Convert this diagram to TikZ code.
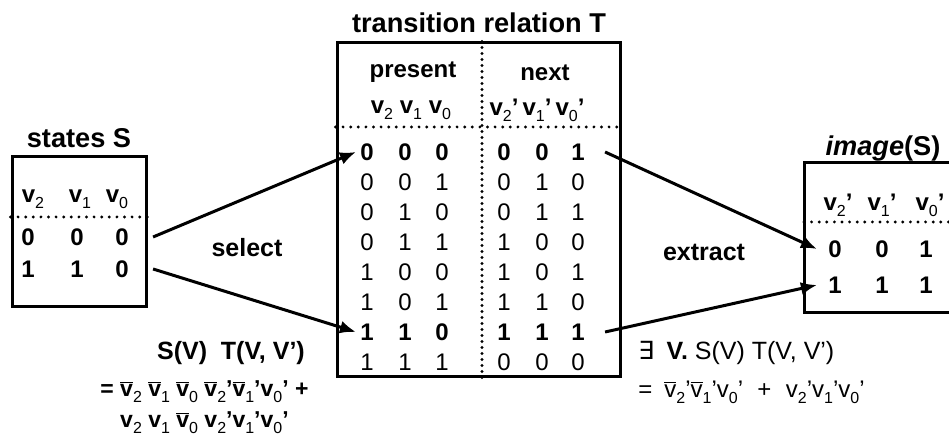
\documentclass[tikz,border=0pt]{standalone}
\usepackage{fontspec}
\setmainfont{Liberation Sans}
\newfontfamily\symfont{DejaVu Sans}
\usetikzlibrary{arrows.meta}

% variables with lowered indices, plain and negated
\newcommand{\sub}[1]{\raisebox{-0.45ex}{\fontsize{8}{8}\selectfont\mdseries #1}}
\newcommand{\vv}[1]{v\sub{#1}}
\newcommand{\nvv}[1]{$\overline{\hbox{v}}$\sub{#1}}

\begin{document}
\begin{tikzpicture}[x=0.5pt, y=-0.5pt,
    every node/.style={inner sep=0pt, font=\bfseries\fontsize{12}{14}\selectfont},
    title/.style={font=\bfseries\fontsize{13.6}{16}\selectfont},
    label/.style={font=\bfseries\fontsize{12.5}{15}\selectfont},
    frame/.style={draw, line width=1.5pt},
    dots/.style={line width=1.6pt, line cap=round, dash pattern=on 0pt off #1},
    dots/.default=3.8pt,
    link/.style={line width=1.5pt, -{Latex[length=8pt,width=6.5pt]}},
  ]
  \useasboundingbox (0,0) rectangle (949,437);

  % states S
  \node[title] (stitle) at (79,138) {states S};
  \node[frame, minimum width=67pt, minimum height=75pt] (sbox) at (79,232) {};
  \draw[dots] (sbox.west |- 0,217) -- (sbox.east |- 0,217);
  \foreach \k/\x in {2/33, 1/80, 0/117}
    \node (sh\k) at (\x,199) {\vv{\k}};
  \foreach \r/\y/\sa/\sb/\sc in {1/237/0/0/0, 2/269/1/1/0}{
    \node (s\r-2) at (28,\y) {\sa};
    \node (s\r-1) at (77,\y) {\sb};
    \node (s\r-0) at (122,\y) {\sc};
  }

  % transition relation T
  \node[title] (ttitle) at (479,23) {transition relation T};
  \node[frame, minimum width=141.5pt, minimum height=167pt] (tbox) at (478.5,210) {};
  \draw[dots=3pt] (tbox.north -| 482,0) -- (tbox.south -| 482,0);
  \draw[dots] (tbox.west |- 0,127) -- (tbox.east |- 0,127);
  \node (present) at (413,72) {present};
  \node (next) at (545,73) {next};
  \foreach \k/\x in {2/382, 1/411, 0/440}
    \node (ph\k) at (\x,110) {\vv{\k}};
  \foreach \k/\x in {2/504, 1/537, 0/570}
    \node (nh\k) at (\x,110) {\vv{\k}'};
  \foreach \r/\w/\pa/\pb/\pc/\na/\nb/\nc in {
      1/\bfseries/0/0/0/0/0/1, 2/\mdseries/0/0/1/0/1/0,
      3/\mdseries/0/1/0/0/1/1, 4/\mdseries/0/1/1/1/0/0,
      5/\mdseries/1/0/0/1/0/1, 6/\mdseries/1/0/1/1/1/0,
      7/\bfseries/1/1/0/1/1/1, 8/\mdseries/1/1/1/0/0/0}{
    \pgfmathsetmacro{\y}{152+30*(\r-1)}
    \node (p\r-2) at (367,\y) {\w\pa};
    \node (p\r-1) at (405,\y) {\w\pb};
    \node (p\r-0) at (442,\y) {\w\pc};
    \node (n\r-2) at (504,\y) {\w\na};
    \node (n\r-1) at (542,\y) {\w\nb};
    \node (n\r-0) at (578,\y) {\w\nc};
  }

  % image(S)
  \node[title] (ititle) at (883,148) {\textit{image}(S)};
  \draw[line width=1.5pt] (949,163) -- (804,163) -- (804,313) -- (949,313);
  \draw[dots] (804,222) -- (949,222);
  \foreach \k/\x in {2/838, 1/882, 0/930}
    \node (ih\k) at (\x,205) {\vv{\k}'};
  \foreach \r/\y/\ia/\ib/\ic in {1/249/0/0/1, 2/285/1/1/1}{
    \node (i\r-2) at (835,\y) {\ia};
    \node (i\r-1) at (882,\y) {\ib};
    \node (i\r-0) at (926,\y) {\ic};
  }

  % select / extract
  \draw[link] ([xshift=12pt]s1-0.east) -- ([xshift=-2pt]p1-2.west);
  \draw[link] ([xshift=12pt]s2-0.east) -- ([xshift=-2pt]p7-2.west);
  \draw[link] ([xshift=10pt]n1-0.east) -- ([xshift=-5.5pt]i1-2.west);
  \draw[link] ([xshift=10pt]n7-0.east) -- ([xshift=-5.5pt]i2-2.west);
  \node[label] (select) at (247,248) {select};
  \node[label] (extract) at (704,252) {extract};

  % formulas
  \node[label] (conj) at (231,353) {S(V)\hspace{0.55em}T(V, V')};
  \node[anchor=base west, font=\bfseries\fontsize{11.5}{13}\selectfont] (sum1) at (100,397)
    {= \nvv{2} \nvv{1} \nvv{0} \nvv{2}'\nvv{1}'\vv{0}' +};
  \node[anchor=base west, font=\bfseries\fontsize{11.5}{13}\selectfont] (sum2) at (100,428)
    {\phantom{= }\vv{2} \vv{1} \nvv{0} \vv{2}'\vv{1}'\vv{0}'};
  \node[anchor=base west, font=\mdseries\fontsize{12.5}{15}\selectfont] (exists) at (638,360)
    {{\symfont ∃}\hspace{0.5em}\textbf{V.} S(V) T(V, V')};
  \node[anchor=base west, font=\mdseries\fontsize{12}{14}\selectfont] (img) at (638,398)
    {=\hspace{0.5em}\nvv{2}'\nvv{1}'\vv{0}'\hspace{0.6em}+\hspace{0.6em}\vv{2}'\vv{1}'\vv{0}'};
\end{tikzpicture}
\end{document}
